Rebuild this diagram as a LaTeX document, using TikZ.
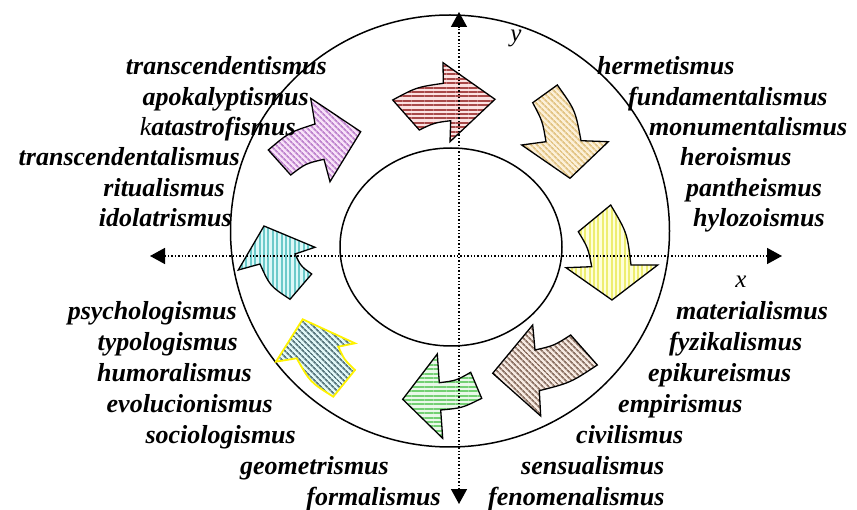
\documentclass[tikz,border=0pt]{standalone}
\usepackage{fontspec}
\setmainfont{Liberation Serif}
\usetikzlibrary{arrows.meta,patterns.meta}
\definecolor{redbg}{HTML}{FBE2E2}\definecolor{redln}{HTML}{A84848}
\definecolor{tanbg}{HTML}{FCF0D8}\definecolor{tanln}{HTML}{E2C485}
\definecolor{yelbg}{HTML}{FEFED8}\definecolor{yelln}{HTML}{EEEE70}
\definecolor{brnbg}{HTML}{F6EAE2}\definecolor{brnln}{HTML}{8C7264}
\definecolor{grnbg}{HTML}{EAF8EA}\definecolor{grnln}{HTML}{74D074}
\definecolor{slabg}{HTML}{E2F8F8}\definecolor{slaln}{HTML}{58787E}
\definecolor{cyabg}{HTML}{DCF8F8}\definecolor{cyaln}{HTML}{6CCACA}
\definecolor{vioabg}{HTML}{F8E2F8}\definecolor{violn}{HTML}{BE84CE}
\begin{document}
\begin{tikzpicture}[x=1pt,y=-1pt,
  lab/.style={font=\fontsize{26}{30}\selectfont\bfseries\itshape, inner sep=0pt},
  axlab/.style={font=\fontsize{25}{30}\selectfont\itshape, inner sep=0pt},
  ring/.style={draw=black, line width=1.5pt},
  arw/.style={draw=black, line width=1.3pt, line join=miter},
  axis/.style={line width=1.5pt, dash pattern=on 1.3pt off 2.1pt,
     {Triangle[width=16pt,length=15pt]}-{Triangle[width=16pt,length=15pt]}},
  hstripe/.style 2 args={preaction={fill=#1}, pattern={Lines[angle=0,distance=4.4pt,line width=2pt]}, pattern color=#2},
  vstripe/.style 2 args={preaction={fill=#1}, pattern={Lines[angle=90,distance=4.4pt,line width=2pt]}, pattern color=#2},
  dstripe/.style 2 args={preaction={fill=#1}, pattern={Lines[angle=-45,distance=4pt,line width=1.8pt]}, pattern color=#2}
]
\useasboundingbox (0,0) rectangle (857,510);

% rings
\draw[ring] (450,231) ellipse [x radius=219.5, y radius=216];
\draw[ring] (451,247) ellipse [x radius=111, y radius=99];

% curved block arrows
\path[arw, hstripe={redbg}{redln}]
  (392.7,100) .. controls (416.5,87.2) .. (443.3,83.3) -- (443,62.7) -- (495,99.3)
  -- (450,141.7) -- (450.7,120.7) .. controls (434.2,122.8) .. (419.3,130) -- cycle;
\path[arw, dstripe={tanbg}{tanln}]
  (532.7,102.7) -- (557.3,85) .. controls (575.3,110.2) .. (581,140.7) -- (608.3,141.7)
  -- (570,178.3) -- (521.7,145) -- (546,141.7) .. controls (542.5,121.1) .. (532.7,102.7) -- cycle;
\path[arw, vstripe={yelbg}{yelln}]
  (578.3,231.7) -- (610.7,205) .. controls (627.2,232.9) .. (631,265) -- (657.7,265)
  -- (612,300) -- (566,267.7) -- (591.7,266.7) .. controls (588.1,248) .. (578.3,231.7) -- cycle;
\path[arw, dstripe={brnbg}{brnln}]
  (570.7,335) .. controls (554.1,345.6) .. (535,350) -- (532.7,325) -- (492.7,373.3)
  -- (540.7,416) -- (539.3,390.7) .. controls (570.5,382.7) .. (597.3,365) -- cycle;
\path[arw, hstripe={grnbg}{grnln}]
  (470.7,372.3) .. controls (456.05,380.65) .. (439.3,382.7) -- (437.3,354) -- (402.7,399.3)
  -- (442.7,438.3) -- (440.7,410) .. controls (462.3,408) .. (481.7,398.3) -- cycle;
\path[arw, draw=yellow, line width=1.8pt, dstripe={slabg}{slaln}]
  (302.7,319.3) -- (355,343.3) -- (338.3,346.7) .. controls (344.45,359.95) .. (355,370)
  -- (333.3,396.7) .. controls (310.15,382.1) .. (296.7,358.3) -- (276,361.7) -- cycle;
\path[arw, vstripe={cyabg}{cyaln}]
  (264,226) -- (315,247.3) -- (295,254) .. controls (300.8,266.1) .. (311.7,274)
  -- (290,299.3) .. controls (269.9,285.95) .. (260,264) -- (238.3,270) -- cycle;
\path[arw, dstripe={vioabg}{violn}]
  (268.3,150) .. controls (289.05,132.4) .. (315,124) -- (310.7,98.3) -- (360.7,131.7)
  -- (330,181.7) -- (324,159.3) .. controls (305.65,163.55) .. (290.7,175) -- cycle;

% axes
\coordinate (xl) at (150,256);
\coordinate (xr) at (782,256);
\coordinate (yt) at (459,12);
\coordinate (yb) at (459,504);
\draw[axis] (xl) -- (xr);
\draw[axis] (yb) -- (yt);
\node[axlab] (ylab) at (516,38) {y};
\node[axlab, anchor=base] (xlab) at (741,288) {x};

% upper left
\node[lab, anchor=base east] (l1) at (327,75) {transcendentismus};
\node[lab, anchor=base east] (l2) at (309,105.5) {apokalyptismus};
\node[lab, anchor=base east] (l3) at (296,136) {{\mdseries k}atastrofismus};
\node[lab, anchor=base east] (l4) at (240,166) {transcendentalismus};
\node[lab, anchor=base east] (l5) at (225,196.5) {ritualismus};
\node[lab, anchor=base east] (l6) at (232,227) {idolatrismus};
% upper right
\node[lab, anchor=base west] (r1) at (597,75) {hermetismus};
\node[lab, anchor=base west] (r2) at (628,105.5) {fundamentalismus};
\node[lab, anchor=base west] (r3) at (649,136) {monumentalismus};
\node[lab, anchor=base west] (r4) at (680,166) {heroismus};
\node[lab, anchor=base west] (r5) at (686,196.5) {pantheismus};
\node[lab, anchor=base west] (r6) at (693,227) {hylozoismus};
% lower right
\node[lab, anchor=base west] (m1) at (676,320) {materialismus};
\node[lab, anchor=base west] (m2) at (669,351) {fyzikalismus};
\node[lab, anchor=base west] (m3) at (648,382) {epikureismus};
\node[lab, anchor=base west] (m4) at (618,413) {empirismus};
\node[lab, anchor=base west] (m5) at (576,444) {civilismus};
\node[lab, anchor=base west] (m6) at (521,475) {sensualismus};
\node[lab, anchor=base west] (m7) at (488,505) {fenomenalismus};
% lower left
\node[lab, anchor=base east] (n1) at (237,320) {psychologismus};
\node[lab, anchor=base east] (n2) at (238,351) {typologismus};
\node[lab, anchor=base east] (n3) at (252,382) {humoralismus};
\node[lab, anchor=base east] (n4) at (273,413) {evolucionismus};
\node[lab, anchor=base east] (n5) at (296,444) {sociologismus};
\node[lab, anchor=base east] (n6) at (389,475) {geometrismus};
\node[lab, anchor=base east] (n7) at (441,505) {formalismus};
\end{tikzpicture}
\end{document}
